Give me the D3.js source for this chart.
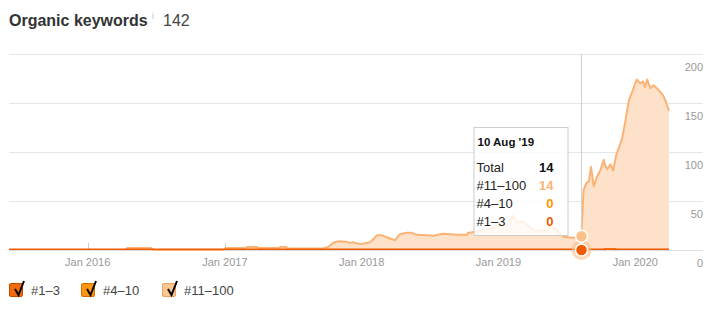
<!DOCTYPE html>
<html>
<head>
<meta charset="utf-8">
<script src="https://cdn.jsdelivr.net/npm/d3@7/dist/d3.min.js"></script>
<style>
  body { margin: 0; background: #fff; }
  svg { display: block; font-family: "Liberation Sans", Arial, Helvetica, sans-serif; }
</style>
</head>
<body>
<div id="chart"></div>
<script>
// keyword counts by position bucket
const dates = [
  "2015-06-05", "2016-04-10", "2016-04-16", "2016-06-18", "2016-06-24", "2016-12-29",
  "2017-01-04", "2017-02-24", "2017-03-01", "2017-03-28", "2017-04-01", "2017-05-24",
  "2017-05-28", "2017-06-14", "2017-06-18", "2017-09-20", "2017-10-03", "2017-10-20",
  "2017-11-01", "2017-11-22", "2017-11-30", "2017-12-08", "2017-12-28", "2018-01-24",
  "2018-02-11", "2018-02-25", "2018-03-12", "2018-03-31", "2018-04-13", "2018-05-02",
  "2018-05-15", "2018-05-28", "2018-06-24", "2018-07-10", "2018-08-06", "2018-09-12",
  "2018-10-09", "2018-10-11", "2018-10-17", "2018-12-09", "2019-01-06", "2019-01-24",
  "2019-02-09", "2019-02-20", "2019-03-08", "2019-04-04", "2019-05-11", "2019-05-19",
  "2019-06-07", "2019-06-23", "2019-07-19", "2019-08-10", "2019-08-16", "2019-08-23",
  "2019-08-30", "2019-09-05", "2019-09-12", "2019-09-21", "2019-09-30", "2019-10-09",
  "2019-10-12", "2019-10-18", "2019-10-27", "2019-11-03", "2019-11-09", "2019-11-12",
  "2019-11-18", "2019-11-27", "2019-12-06", "2019-12-15", "2019-12-24", "2020-01-01",
  "2020-01-05", "2020-01-14", "2020-01-22", "2020-01-27", "2020-02-02", "2020-02-10",
  "2020-02-18", "2020-02-28", "2020-03-07", "2020-03-15", "2020-03-23", "2020-03-31"
];
const pos11to100 = [
  0, 0, 2, 2, 0, 0,
  2, 2, 3, 3, 2, 2,
  3, 3, 1.5, 1.5, 3, 8,
  9, 8.5, 7, 8, 6, 8,
  15, 15, 12.5, 10, 16, 17.5,
  17.5, 15.5, 15, 14.5, 16.5, 15.5,
  15.5, 17.5, 17.5, 22, 25.5, 25,
  35, 28, 29, 20.5, 19.5, 25,
  20, 13.5, 12.5, 14, 61, 68,
  70, 85, 65, 75, 81.5, 92,
  86, 81.5, 86.5, 80, 92, 98,
  104, 114, 132.5, 153, 161.5, 170,
  174, 170, 172, 166, 174, 165,
  168, 165, 161.5, 158, 151, 142
];
const pos4to10 = dates.map(d => (d >= "2019-10-12" && d <= "2019-11-09") ? 1 : 0);
const pos1to3 = dates.map(() => 0);

const seriesNames = ["#1–3", "#4–10", "#11–100"];
const seriesColors = ["#f05a00", "#ff8c00", "#fbb375"];
const legendFill = ["#f26a10", "#ff9410", "#fdc590"];
const legendStroke = ["#c44a00", "#d07000", "#eda060"];
const yTicks = [0, 50, 100, 150, 200];
const xTickYears = [2016, 2017, 2018, 2019, 2020];
const hoverDate = "2019-08-10";

const W = 717, H = 312;
const parse = d3.timeParse("%Y-%m-%d");

const rows = dates.map((d, i) => ({
  date: parse(d),
  p1: pos1to3[i],
  p4: pos4to10[i],
  p11: pos11to100[i]
}));

const svg = d3.select("#chart").append("svg")
  .attr("width", W)
  .attr("height", H);

const x = d3.scaleTime()
  .domain(d3.extent(rows, r => r.date))
  .range([9, 669]);
const y = d3.scaleLinear()
  .domain([0, 200])
  .range([250, 54]);

// header
const header = svg.append("g").attr("class", "header");
header.append("text")
  .attr("x", 9).attr("y", 26)
  .attr("fill", "#333")
  .style("font-size", "16px")
  .style("font-weight", "bold")
  .text("Organic keywords");
header.append("text")
  .attr("x", 152).attr("y", 19)
  .attr("fill", "#bbb")
  .style("font-size", "9px")
  .text("i");
const last = rows[rows.length - 1];
header.append("text")
  .attr("x", 163).attr("y", 26)
  .attr("fill", "#444")
  .style("font-size", "16px")
  .text(last.p1 + last.p4 + last.p11);

// grid + y labels
const grid = svg.append("g").attr("class", "grid");
grid.selectAll("line")
  .data(yTicks)
  .join("line")
  .attr("x1", 9).attr("x2", 703)
  .attr("y1", d => y(d) + 0.5).attr("y2", d => y(d) + 0.5)
  .attr("stroke", d => d === 0 ? "#ddd" : "#e6e6e6");
grid.selectAll("text")
  .data(yTicks)
  .join("text")
  .attr("x", 703)
  .attr("y", d => y(d) + 17)
  .attr("text-anchor", "end")
  .attr("fill", "#999")
  .style("font-size", "11px")
  .text(d => d);

// x ticks
const xTicks = xTickYears.map(yr => new Date(yr, 0, 1));
const xAxis = svg.append("g").attr("class", "x-axis");
xAxis.selectAll("line")
  .data(xTicks)
  .join("line")
  .attr("x1", d => Math.round(x(d)) + 0.5).attr("x2", d => Math.round(x(d)) + 0.5)
  .attr("y1", 243).attr("y2", 250)
  .attr("stroke", "#ccc");
xAxis.selectAll("text")
  .data(xTicks)
  .join("text")
  .attr("x", d => x(d))
  .attr("y", 266)
  .attr("text-anchor", "middle")
  .attr("fill", "#999")
  .style("font-size", "11px")
  .text(d3.timeFormat("Jan %Y"));

// stacked areas
const stack = d3.stack().keys(["p1", "p4", "p11"]);
const layers = stack(rows);

// a layer's outline is only drawn where it (or a neighbour) is above zero
function visible(layer) {
  return (d, i) => {
    const h = p => p ? p[1] - p[0] : 0;
    return h(d) > 0 || h(layer[i - 1]) > 0 || h(layer[i + 1]) > 0;
  };
}

const area = d3.area()
  .x(d => x(d.data.date))
  .y0(d => y(d[0]))
  .y1(d => y(d[1]));
const lineFor = layer => d3.line()
  .defined(visible(layer))
  .x(d => x(d.data.date))
  .y(d => y(d[1]))(layer);

const plot = svg.append("g").attr("class", "plot");
plot.append("path")
  .datum(layers[2])
  .attr("d", area)
  .attr("fill", "#fde1c8");
plot.append("path")
  .attr("d", lineFor(layers[2]))
  .attr("fill", "none")
  .attr("stroke", seriesColors[2])
  .attr("stroke-width", 2)
  .attr("stroke-linejoin", "round");
plot.append("path")
  .datum(layers[1])
  .attr("d", area)
  .attr("fill", seriesColors[1]);
plot.append("path")
  .attr("d", lineFor(layers[1]))
  .attr("fill", "none")
  .attr("stroke", seriesColors[1])
  .attr("stroke-width", 2);
plot.append("path")
  .attr("d", d3.line().x(d => x(d.data.date)).y(d => y(d[1]))(layers[0]))
  .attr("fill", "none")
  .attr("stroke", seriesColors[0])
  .attr("stroke-width", 1.5)
  .attr("transform", "translate(0,-0.75)");

// hover state
const hi = dates.indexOf(hoverDate);
const hRow = rows[hi];
const hx = Math.round(x(hRow.date)) + 0.5;
const hover = svg.append("g").attr("class", "hover");
hover.append("line")
  .attr("x1", hx).attr("x2", hx)
  .attr("y1", 54).attr("y2", 250)
  .attr("stroke", "#d0d0d0");
hover.append("circle")
  .attr("cx", hx).attr("cy", y(hRow.p1))
  .attr("r", 10)
  .attr("fill", "#fbbf8a").attr("fill-opacity", 0.6);
hover.append("circle")
  .attr("cx", hx).attr("cy", y(hRow.p1))
  .attr("r", 6)
  .attr("fill", seriesColors[0])
  .attr("stroke", "#fff").attr("stroke-width", 1.5);
hover.append("circle")
  .attr("cx", hx).attr("cy", y(hRow.p1 + hRow.p4 + hRow.p11))
  .attr("r", 6)
  .attr("fill", "#fbbf8a")
  .attr("stroke", "#fff").attr("stroke-width", 1.5);

// tooltip
const tip = svg.append("g").attr("class", "tooltip")
  .attr("transform", `translate(${hx - 108},127)`);
tip.append("rect")
  .attr("x", 0.5).attr("y", 0.5)
  .attr("width", 94).attr("height", 108)
  .attr("fill", "#fff").attr("fill-opacity", 0.82)
  .attr("stroke", "#ccc");
tip.append("text")
  .attr("x", 4).attr("y", 19)
  .attr("fill", "#111")
  .style("font-size", "11.5px")
  .style("font-weight", "bold")
  .text(d3.timeFormat("%d %b '%y")(hRow.date));
const tipRows = [
  {label: "Total", value: hRow.p1 + hRow.p4 + hRow.p11, color: "#111"},
  {label: seriesNames[2], value: hRow.p11, color: "#fbb375"},
  {label: seriesNames[1], value: hRow.p4, color: "#ff9500"},
  {label: seriesNames[0], value: hRow.p1, color: "#f05a00"}
];
const tipRow = tip.selectAll("g.row")
  .data(tipRows)
  .join("g")
  .attr("class", "row")
  .attr("transform", (d, i) => `translate(0,${44.5 + i * 18})`);
tipRow.append("text")
  .attr("x", 3)
  .attr("fill", "#222")
  .style("font-size", "13px")
  .text(d => d.label);
tipRow.append("text")
  .attr("x", 80)
  .attr("text-anchor", "end")
  .attr("fill", d => d.color)
  .style("font-size", "13px")
  .style("font-weight", "bold")
  .text(d => d.value);

// legend
const legendX = [9, 81, 162];
const legend = svg.append("g").attr("class", "legend")
  .selectAll("g")
  .data(seriesNames)
  .join("g")
  .attr("transform", (d, i) => `translate(${legendX[i]},283)`);
legend.append("rect")
  .attr("x", 0.5).attr("y", 0.5)
  .attr("width", 13).attr("height", 13)
  .attr("rx", 1.5)
  .attr("fill", (d, i) => legendFill[i])
  .attr("stroke", (d, i) => legendStroke[i]);
legend.append("path")
  .attr("d", "M6,6 L9.5,12 L15,-2")
  .attr("fill", "none")
  .attr("stroke", "#000")
  .attr("stroke-width", 2);
legend.append("text")
  .attr("x", 22)
  .attr("y", 12)
  .attr("fill", "#444")
  .style("font-size", "13px")
  .text(d => d);
</script>
</body>
</html>
